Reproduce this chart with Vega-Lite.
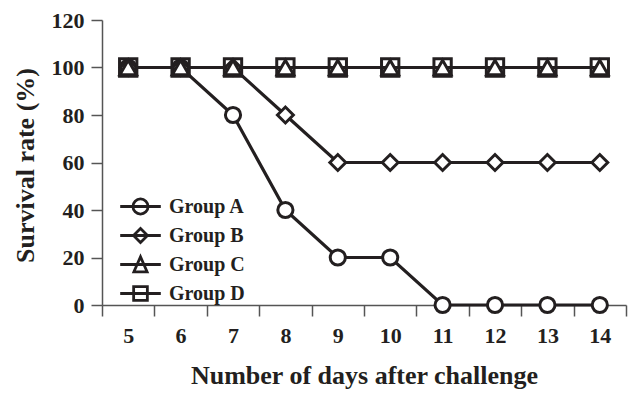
{
  "$schema": "https://vega.github.io/schema/vega-lite/v6.json",
  "width": 524,
  "height": 285,
  "autosize": {"type": "none"},
  "padding": {"left": 102, "top": 20, "right": 14, "bottom": 96},
  "background": "white",
  "config": {
    "view": {"stroke": null},
    "font": "Liberation Serif",
    "axis": {
      "labelFont": "Liberation Serif",
      "labelFontWeight": "bold",
      "labelFontSize": 22,
      "labelColor": "#231f20",
      "titleFont": "Liberation Serif",
      "titleFontWeight": "bold",
      "titleFontSize": 26,
      "titleColor": "#231f20",
      "domainColor": "#555555",
      "domainWidth": 1.5,
      "tickColor": "#555555",
      "tickWidth": 1.5,
      "grid": false
    }
  },
  "data": {
    "values": [
      {"group": "Group A", "day": 5, "rate": 100},
      {"group": "Group A", "day": 6, "rate": 100},
      {"group": "Group A", "day": 7, "rate": 80},
      {"group": "Group A", "day": 8, "rate": 40},
      {"group": "Group A", "day": 9, "rate": 20},
      {"group": "Group A", "day": 10, "rate": 20},
      {"group": "Group A", "day": 11, "rate": 0},
      {"group": "Group A", "day": 12, "rate": 0},
      {"group": "Group A", "day": 13, "rate": 0},
      {"group": "Group A", "day": 14, "rate": 0},
      {"group": "Group B", "day": 5, "rate": 100},
      {"group": "Group B", "day": 6, "rate": 100},
      {"group": "Group B", "day": 7, "rate": 100},
      {"group": "Group B", "day": 8, "rate": 80},
      {"group": "Group B", "day": 9, "rate": 60},
      {"group": "Group B", "day": 10, "rate": 60},
      {"group": "Group B", "day": 11, "rate": 60},
      {"group": "Group B", "day": 12, "rate": 60},
      {"group": "Group B", "day": 13, "rate": 60},
      {"group": "Group B", "day": 14, "rate": 60},
      {"group": "Group C", "day": 5, "rate": 100},
      {"group": "Group C", "day": 6, "rate": 100},
      {"group": "Group C", "day": 7, "rate": 100},
      {"group": "Group C", "day": 8, "rate": 100},
      {"group": "Group C", "day": 9, "rate": 100},
      {"group": "Group C", "day": 10, "rate": 100},
      {"group": "Group C", "day": 11, "rate": 100},
      {"group": "Group C", "day": 12, "rate": 100},
      {"group": "Group C", "day": 13, "rate": 100},
      {"group": "Group C", "day": 14, "rate": 100},
      {"group": "Group D", "day": 5, "rate": 100},
      {"group": "Group D", "day": 6, "rate": 100},
      {"group": "Group D", "day": 7, "rate": 100},
      {"group": "Group D", "day": 8, "rate": 100},
      {"group": "Group D", "day": 9, "rate": 100},
      {"group": "Group D", "day": 10, "rate": 100},
      {"group": "Group D", "day": 11, "rate": 100},
      {"group": "Group D", "day": 12, "rate": 100},
      {"group": "Group D", "day": 13, "rate": 100},
      {"group": "Group D", "day": 14, "rate": 100}
    ]
  },
  "encoding": {
    "x": {
      "field": "day",
      "type": "ordinal",
      "scale": {"type": "band", "paddingInner": 0, "paddingOuter": 0},
      "axis": {
        "title": "Number of days after challenge",
        "labelAngle": 0,
        "tickBand": "extent",
        "tickSize": 11,
        "labelPadding": 9,
        "titleBaseline": "alphabetic",
        "titleY": 78
      }
    },
    "y": {
      "field": "rate",
      "type": "quantitative",
      "scale": {"domain": [0, 120], "nice": false},
      "axis": {
        "title": "Survival rate (%)",
        "values": [0, 20, 40, 60, 80, 100, 120],
        "tickSize": 11,
        "labelPadding": 7,
        "titleAngle": -90,
        "titleBaseline": "alphabetic",
        "titleX": -69,
        "titleY": 145
      }
    }
  },
  "layer": [
    {
      "mark": {"type": "line", "stroke": "#231f20", "strokeWidth": 3.2},
      "encoding": {"detail": {"field": "group", "type": "nominal"}}
    },
    {
      "mark": {"type": "point", "filled": true, "stroke": "#231f20", "strokeWidth": 3, "opacity": 1},
      "encoding": {
        "shape": {
          "field": "group",
          "type": "nominal",
          "scale": {"domain": ["Group A", "Group B", "Group C", "Group D"], "range": ["circle", "diamond", "triangle-up", "square"]},
          "legend": null
        },
        "fill": {
          "field": "group",
          "type": "nominal",
          "scale": {"domain": ["Group A", "Group B", "Group C", "Group D"], "range": ["white", "white", "white", "transparent"]},
          "legend": null
        },
        "size": {
          "field": "group",
          "type": "nominal",
          "scale": {"domain": ["Group A", "Group B", "Group C", "Group D"], "range": [230, 300, 190, 320]},
          "legend": null
        }
      }
    },
    {
      "mark": {"type": "point", "fill": "white", "stroke": "#231f20", "strokeWidth": 2.8, "opacity": 0},
      "encoding": {
        "shape": {
          "field": "group",
          "type": "nominal",
          "scale": {
            "domain": ["Group A", "Group B", "Group C", "Group D"],
            "range": [
              "M -1.45 0 L 1.45 0 M 0.54 0 A 0.54 0.54 0 1 1 -0.54 0 A 0.54 0.54 0 1 1 0.54 0 Z",
              "M -1.45 0 L 1.45 0 M 0 -0.5 L 0.5 0 L 0 0.5 L -0.5 0 Z",
              "M -1.45 0 L 1.45 0 M 0 -0.55 L 0.47 0.52 L -0.47 0.52 Z",
              "M -1.45 0 L 1.45 0 M -0.49 -0.49 L 0.49 -0.49 L 0.49 0.49 L -0.49 0.49 Z"
            ]
          },
          "legend": {
            "title": null,
            "orient": "none",
            "legendX": 23,
            "legendY": 171,
            "padding": 0,
            "rowPadding": 0,
            "symbolSize": 784,
            "symbolStrokeWidth": 2.8,
            "labelFont": "Liberation Serif",
            "labelFontWeight": "bold",
            "labelFontSize": 20,
            "labelColor": "#231f20",
            "labelOffset": 13,
            "encode": {
              "symbols": {
                "update": {
                  "opacity": {"value": 1},
                  "fillOpacity": {"value": 1},
                  "strokeOpacity": {"value": 1},
                  "fill": {"value": "white"},
                  "stroke": {"value": "#231f20"},
                  "strokeWidth": {"value": 2.8}
                }
              }
            }
          }
        }
      }
    }
  ],
  "resolve": {"scale": {"shape": "independent"}}
}
